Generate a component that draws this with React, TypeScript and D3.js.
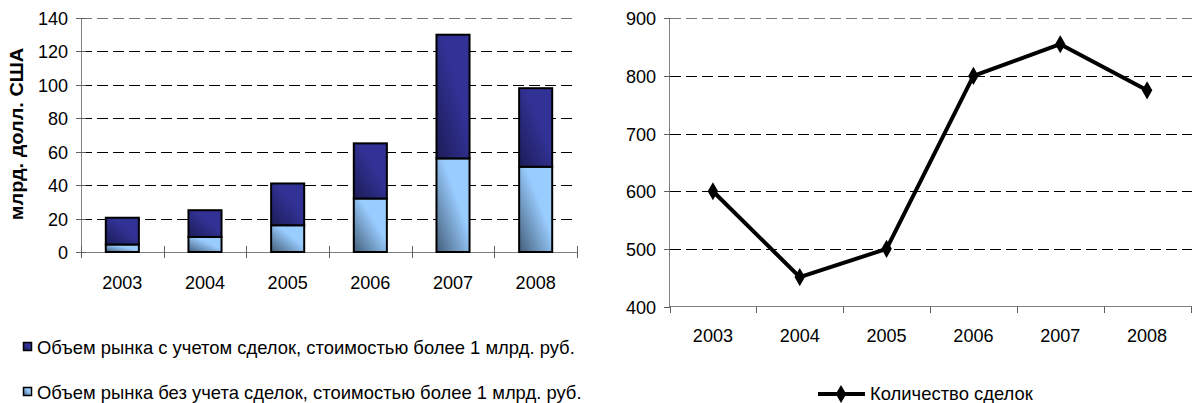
import React, { useEffect, useRef } from 'react';
import * as d3 from 'd3';

// Data
const years = ['2003', '2004', '2005', '2006', '2007', '2008'];
const marketWithBig = [20.5, 25, 41, 65, 130, 98]; // total incl. deals > 1 bn rub
const marketWithoutBig = [4.5, 9, 16, 32, 56, 51];
const dealCount = [600, 451, 500, 800, 855, 775];
const leftTicks = [0, 20, 40, 60, 80, 100, 120, 140];
const rightTicks = [400, 500, 600, 700, 800, 900];

const legendWith = 'Объем рынка с учетом сделок, стоимостью более 1 млрд. руб.';
const legendWithout = 'Объем рынка без учета сделок, стоимостью более 1 млрд. руб.';
const legendLine = 'Количество сделок';
const yTitle = 'млрд. долл. США';

const FONT = '"Liberation Sans", Arial, sans-serif';

const App = () => {
  const ref = useRef<SVGSVGElement>(null);

  useEffect(() => {
    const svg = d3.select(ref.current);
    svg.selectAll('*').remove();

    const text = (
      g: any,
      x: number,
      y: number,
      s: string,
      anchor: string,
      sx = 0.95,
      size = 19,
      weight = 'normal',
      rot = 0
    ) =>
      g
        .append('text')
        .attr('transform', `translate(${x},${y}) rotate(${rot}) scale(${sx},1)`)
        .attr('text-anchor', anchor)
        .attr('font-family', FONT)
        .attr('font-size', size)
        .attr('font-weight', weight)
        .attr('fill', '#000')
        .text(s);

    // gradients
    const defs = svg.append('defs');
    const grad = (id: string, c0: string, c1: string) => {
      const lg = defs
        .append('linearGradient')
        .attr('id', id)
        .attr('x1', 1)
        .attr('y1', 0)
        .attr('x2', 0)
        .attr('y2', 1);
      lg.append('stop').attr('offset', '0%').attr('stop-color', c0);
      lg.append('stop').attr('offset', '40%').attr('stop-color', c0);
      lg.append('stop').attr('offset', '100%').attr('stop-color', c1);
    };
    grad('gDark', '#323296', '#1c1c58');
    grad('gLight', '#99ccff', '#435d78');

    // ---------- left: stacked bars ----------
    const L = svg.append('g');
    const xL = d3.scaleBand().domain(years).range([81, 577]);
    const yL = d3.scaleLinear().domain([0, 140]).range([252, 18]);
    const bw = xL.bandwidth() * 0.4;

    leftTicks.slice(1).forEach((t, i, arr) => {
      L.append('line')
        .attr('x1', 81)
        .attr('x2', 577)
        .attr('y1', Math.round(yL(t)) + 0.5)
        .attr('y2', Math.round(yL(t)) + 0.5)
        .attr('stroke', i === arr.length - 1 ? '#777' : '#000')
        .attr('stroke-dasharray', '11,5');
    });

    // axes
    L.append('line').attr('x1', 81.5).attr('x2', 81.5).attr('y1', 18).attr('y2', 252).attr('stroke', '#808080');
    L.append('line').attr('x1', 81).attr('x2', 577).attr('y1', 252.5).attr('y2', 252.5).attr('stroke', '#808080');
    leftTicks.forEach((t) => {
      const y = Math.round(yL(t)) + 0.5;
      L.append('line').attr('x1', 76).attr('x2', 86).attr('y1', y).attr('y2', y).attr('stroke', '#606060');
      text(L, 68, yL(t) + 7, String(t), 'end');
    });
    [...years.map((d) => xL(d) as number), 577].forEach((x) => {
      const xx = Math.round(x) + 0.5;
      L.append('line').attr('x1', xx).attr('x2', xx).attr('y1', 246).attr('y2', 258).attr('stroke', '#606060');
    });
    years.forEach((d) => text(L, (xL(d) as number) + xL.bandwidth() / 2, 289, d, 'middle'));

    // bars
    years.forEach((d, i) => {
      const x = (xL(d) as number) + (xL.bandwidth() - bw) / 2;
      L.append('rect')
        .attr('x', x)
        .attr('y', yL(marketWithoutBig[i]))
        .attr('width', bw)
        .attr('height', yL(0) - yL(marketWithoutBig[i]))
        .attr('fill', 'url(#gLight)')
        .attr('stroke', '#000')
        .attr('stroke-width', 2);
      L.append('rect')
        .attr('x', x)
        .attr('y', yL(marketWithBig[i]))
        .attr('width', bw)
        .attr('height', yL(marketWithoutBig[i]) - yL(marketWithBig[i]))
        .attr('fill', 'url(#gDark)')
        .attr('stroke', '#000')
        .attr('stroke-width', 2);
    });

    text(L, 23, 134, yTitle, 'middle', 1.05, 19, 'bold', -90);

    // legend left
    [
      [legendWith, 'url(#gDark)', 347],
      [legendWithout, 'url(#gLight)', 392],
    ].forEach(([s, f, y]) => {
      L.append('rect')
        .attr('x', 23.5)
        .attr('y', (y as number) - 4.5)
        .attr('width', 8)
        .attr('height', 8)
        .attr('fill', f as string)
        .attr('stroke', '#000')
        .attr('stroke-width', 1.5);
      text(L, 37, (y as number) + 7, s as string, 'start', 0.97);
    });

    // ---------- right: line ----------
    const R = svg.append('g');
    const xR = d3.scaleBand().domain(years).range([669.5, 1190.5]);
    const yR = d3.scaleLinear().domain([400, 900]).range([306.5, 18.3]);

    rightTicks.slice(1).forEach((t, i, arr) => {
      R.append('line')
        .attr('x1', 670)
        .attr('x2', 1192)
        .attr('y1', Math.round(yR(t)) + 0.5)
        .attr('y2', Math.round(yR(t)) + 0.5)
        .attr('stroke', i === arr.length - 1 ? '#777' : '#000')
        .attr('stroke-dasharray', '11,5');
    });
    R.append('line').attr('x1', 669.5).attr('x2', 669.5).attr('y1', 18).attr('y2', 307).attr('stroke', '#808080');
    R.append('line').attr('x1', 669.5).attr('x2', 1192).attr('y1', 306.5).attr('y2', 306.5).attr('stroke', '#808080');
    rightTicks.forEach((t) => {
      const y = Math.round(yR(t)) + 0.5;
      R.append('line').attr('x1', 664).attr('x2', 670).attr('y1', y).attr('y2', y).attr('stroke', '#606060');
      text(R, 656, yR(t) + 7, String(t), 'end');
    });
    [...years.map((d) => xR(d) as number), 1190.5].forEach((x) => {
      const xx = Math.round(x) + 0.5;
      R.append('line').attr('x1', xx).attr('x2', xx).attr('y1', 306.5).attr('y2', 313).attr('stroke', '#606060');
    });
    years.forEach((d) => text(R, (xR(d) as number) + xR.bandwidth() / 2, 342, d, 'middle'));

    const cx = (d: string) => (xR(d) as number) + xR.bandwidth() / 2;
    const line = d3
      .line<number>()
      .x((_, i) => cx(years[i]))
      .y((v) => yR(v));
    R.append('path')
      .attr('d', line(dealCount))
      .attr('fill', 'none')
      .attr('stroke', '#000')
      .attr('stroke-width', 4)
      .attr('stroke-linejoin', 'round');
    const diamond = d3.symbol().type(d3.symbolDiamond).size(95);
    dealCount.forEach((v, i) => {
      R.append('path')
        .attr('d', diamond())
        .attr('transform', `translate(${cx(years[i])},${yR(v)})`)
        .attr('fill', '#000');
    });

    // legend right
    R.append('line').attr('x1', 818).attr('x2', 865).attr('y1', 394).attr('y2', 394).attr('stroke', '#000').attr('stroke-width', 4);
    R.append('path').attr('d', diamond()).attr('transform', 'translate(841,394)').attr('fill', '#000');
    text(R, 870, 400, legendLine, 'start', 0.97, 19);
  }, []);

  return (
    <div style={{ position: 'absolute', left: 0, top: 0 }}>
      <svg ref={ref} width={1192} height={403} style={{ display: 'block', background: '#fff' }} />
    </div>
  );
};

export default App;
